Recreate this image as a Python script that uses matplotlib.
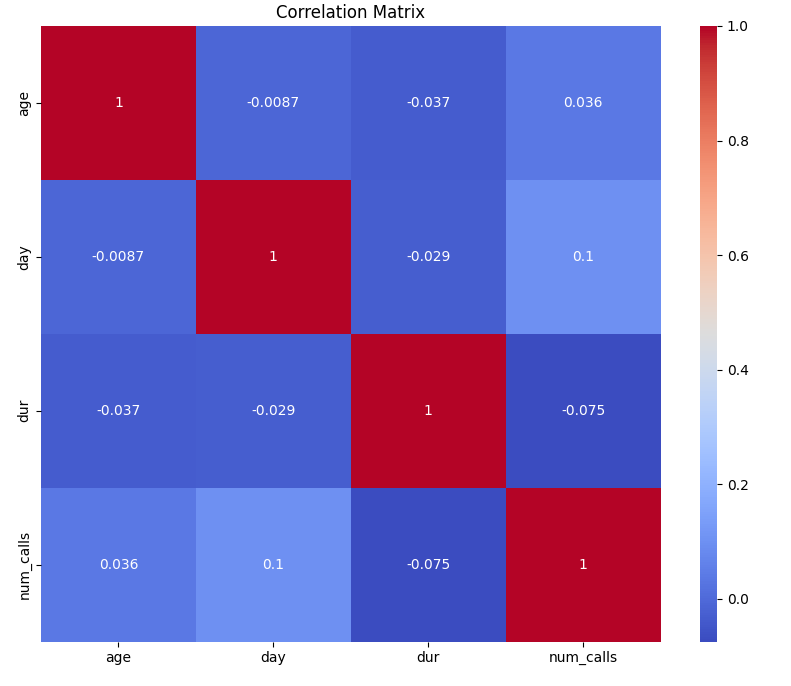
import matplotlib
matplotlib.use("Agg")
import matplotlib.pyplot as plt
import seaborn as sns
import numpy as np
import pandas as pd

labels = ["age", "day", "dur", "num_calls"]
row_age = [1, -0.0087, -0.037, 0.036]
row_day = [-0.0087, 1, -0.029, 0.1]
row_dur = [-0.037, -0.029, 1, -0.075]
row_calls = [0.036, 0.1, -0.075, 1]

corr = pd.DataFrame([row_age, row_day, row_dur, row_calls], index=labels, columns=labels)

fig = plt.figure(figsize=(7.91, 6.86), dpi=100)
ax = fig.add_axes([41/791, 44.5/686, 619.5/791, 615.5/686])
cax = fig.add_axes([700/791, 44.5/686, 17/791, 615.5/686])
sns.heatmap(corr, annot=True, cmap="coolwarm", ax=ax, cbar_ax=cax)
ax.set_title("Correlation Matrix")
fig.savefig("out.png", dpi=100)
